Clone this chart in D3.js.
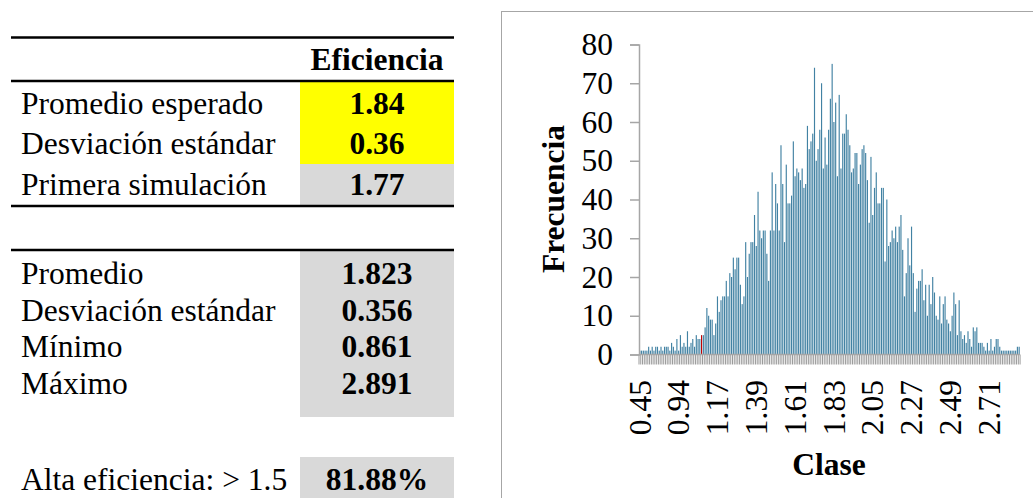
<!DOCTYPE html>
<html>
<head>
<meta charset="utf-8">
<script src="https://cdnjs.cloudflare.com/ajax/libs/d3/7.8.5/d3.min.js"></script>
<style>
    body { margin: 0; background: #fff; }
    svg text { font-family: "Times New Roman", "Liberation Serif", serif; font-size: 31.5px; fill: #000; }
</style>
</head>
<body>
<div id="chart"></div>
<script>

// table values
let header = "Eficiencia";
let inputLabels = ["Promedio esperado", "Desviación estándar", "Primera simulación"];
let inputValues = ["1.84", "0.36", "1.77"];
let statLabels = ["Promedio", "Desviación estándar", "Mínimo", "Máximo"];
let statValues = ["1.823", "0.356", "0.861", "2.891"];
let highLabel = "Alta eficiencia: > 1.5";
let highValue = "81.88%";

// histogram: frequency per class (216 classes), one class highlighted
let freq = [
    1,1,1,1,1,2,1,2,1,2,2,1,2,1,2,2,2,1,3,2,1,4,1,5,2,3,2,6,2,3,
    4,2,5,4,4,5,5,7,12,10,9,9,5,8,15,11,14,15,15,19,15,21,20,25,22,25,25,18,13,15,29,20,26,29,29,36,28,
    42,32,30,32,32,26,19,32,47,32,44,39,32,54,44,29,49,39,39,41,55,46,48,47,45,48,43,44,59,53,55,57,74,50,53,
    58,70,48,56,49,58,66,75,60,65,46,67,48,57,57,62,58,54,47,48,52,52,44,49,53,54,52,45,34,51,36,43,47,39,39,
    43,43,24,40,28,29,32,30,33,29,33,36,27,15,21,30,23,33,21,11,17,19,19,22,14,18,10,18,13,20,16,10,9,15,8,
    13,15,9,8,6,10,16,13,5,14,6,4,5,3,6,4,2,7,6,7,3,3,3,2,1,3,1,4,1,2,4,4,2,1,1,
    1,1,1,1,1,1,1,2,2
];
let highlightClass = 35;
let xTickLabels = ["0.45", "0.94", "1.17", "1.39", "1.61", "1.83", "2.05", "2.27", "2.49", "2.71"];
let labelStep = 22;
let yTicks = [0, 10, 20, 30, 40, 50, 60, 70, 80];

let svg = d3.select("#chart")
    .append("svg")
    .attr("width", 1033)
    .attr("height", 498);

// ---------- tables ----------
let tbl = svg.append("g");
let colX = 300, colW = 154, textX = 21, valX = 377;

function rule(y) {
    tbl.append("line")
        .attr("x1", 11).attr("x2", 454)
        .attr("y1", y).attr("y2", y)
        .attr("stroke", "#000")
        .attr("stroke-width", 2.5);
}

tbl.append("rect").attr("x", colX).attr("y", 82).attr("width", colW).attr("height", 82).attr("fill", "#ffff00");
tbl.append("rect").attr("x", colX).attr("y", 164).attr("width", colW).attr("height", 42).attr("fill", "#d9d9d9");
tbl.append("rect").attr("x", colX).attr("y", 251).attr("width", colW).attr("height", 166).attr("fill", "#d9d9d9");
tbl.append("rect").attr("x", colX).attr("y", 457).attr("width", colW).attr("height", 45).attr("fill", "#d9d9d9");

rule(37.5);
rule(81);
rule(206);
rule(250);

tbl.append("text")
    .attr("x", valX).attr("y", 70)
    .attr("text-anchor", "middle")
    .attr("font-weight", "bold")
    .text(header);

let inputY = [113.5, 153.5, 195];
inputLabels.forEach((d, i) => {
    tbl.append("text").attr("x", textX).attr("y", inputY[i]).text(d);
    tbl.append("text").attr("x", valX).attr("y", inputY[i])
        .attr("text-anchor", "middle").attr("font-weight", "bold")
        .text(inputValues[i]);
});

let statY = [283.5, 320.5, 357, 393.5];
statLabels.forEach((d, i) => {
    tbl.append("text").attr("x", textX).attr("y", statY[i]).text(d);
    tbl.append("text").attr("x", valX).attr("y", statY[i])
        .attr("text-anchor", "middle").attr("font-weight", "bold")
        .text(statValues[i]);
});

tbl.append("text").attr("x", textX).attr("y", 490).text(highLabel);
tbl.append("text").attr("x", valX).attr("y", 490)
    .attr("text-anchor", "middle").attr("font-weight", "bold")
    .text(highValue);

// ---------- histogram ----------
svg.append("rect")
    .attr("x", 501.5).attr("y", 11.5)
    .attr("width", 600).attr("height", 600)
    .attr("fill", "none")
    .attr("stroke", "#a6a6a6")
    .attr("stroke-width", 1);

let x = d3.scaleBand()
    .domain(d3.range(freq.length))
    .range([639, 1020])
    .paddingInner(0.35)
    .paddingOuter(0.15);

let y = d3.scaleLinear()
    .domain([0, 80])
    .range([354.5, 44.5]);

let plot = svg.append("g");

plot.selectAll(".bar")
    .data(freq)
    .enter()
    .append("rect")
    .attr("class", "bar")
    .attr("x", (d, i) => x(i))
    .attr("width", x.bandwidth())
    .attr("y", d => y(d))
    .attr("height", d => y(0) - y(d))
    .attr("fill", (d, i) => i === highlightClass ? "#c00000" : "#4282a3");

// category tick marks between classes
let step = x.step();
plot.selectAll(".ctick")
    .data(d3.range(freq.length + 1))
    .enter()
    .append("line")
    .attr("class", "ctick")
    .attr("x1", i => 639 + i * step)
    .attr("x2", i => 639 + i * step)
    .attr("y1", y(0))
    .attr("y2", y(0) + 10)
    .attr("stroke", "#9a9a9a")
    .attr("stroke-width", 1);

plot.append("line")
    .attr("x1", 639).attr("x2", 1020)
    .attr("y1", y(0)).attr("y2", y(0))
    .attr("stroke", "#a6a6a6")
    .attr("stroke-width", 1.5);

// y axis
let yAxis = plot.append("g")
    .attr("transform", "translate(639,0)")
    .call(d3.axisLeft(y).tickValues(yTicks).tickSize(9).tickPadding(17));
yAxis.select(".domain").attr("stroke", "#a6a6a6").attr("stroke-width", 1.5);
yAxis.selectAll(".tick line").attr("stroke", "#a6a6a6").attr("stroke-width", 1.5);
yAxis.selectAll(".tick text")
    .attr("font-family", null)
    .attr("font-size", null)
    .attr("fill", "#000");
yAxis.attr("font-family", null).attr("font-size", null);

// x labels every labelStep classes
plot.selectAll(".xlab")
    .data(xTickLabels)
    .enter()
    .append("text")
    .attr("class", "xlab")
    .attr("transform", (d, i) => "translate(" + (x(i * labelStep) + x.bandwidth() / 2) + ",380) rotate(-90)")
    .attr("text-anchor", "end")
    .attr("dy", "0.34em")
    .text(d => d);

plot.append("text")
    .attr("transform", "translate(553,199) rotate(-90)")
    .attr("text-anchor", "middle")
    .attr("dy", "0.34em")
    .attr("font-weight", "bold")
    .text("Frecuencia");

plot.append("text")
    .attr("x", 829)
    .attr("y", 475)
    .attr("text-anchor", "middle")
    .attr("font-weight", "bold")
    .text("Clase");

</script>
</body>
</html>
